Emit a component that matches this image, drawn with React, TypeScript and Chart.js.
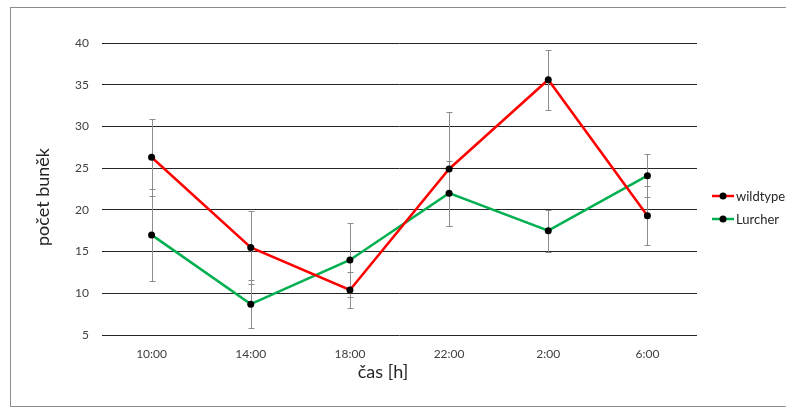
import React, { useEffect, useRef } from "react";
import { Chart, registerables } from "chart.js";

Chart.register(...registerables);

// Sampling times
const categories = ["10:00", "14:00", "18:00", "22:00", "2:00", "6:00"];

// Mean cell counts and their error (± one deviation)
const wildtypeValues = [26.3, 15.5, 10.4, 24.9, 35.6, 19.3];
const wildtypeErrors = [4.6, 4.4, 2.2, 6.8, 3.6, 3.5];
const lurcherValues = [17.0, 8.7, 14.0, 22.0, 17.5, 24.1];
const lurcherErrors = [5.5, 2.9, 4.4, 3.9, 2.5, 2.6];

const seriesNames = ["wildtype", "Lurcher"];
const seriesColors = ["#ff0000", "#00b050"];
const yTitle = "počet buněk";
const xTitle = "čas [h]";

const FONT = "Lato, 'Noto Sans', sans-serif";

const errorBarPlugin = {
  id: "errorBars",
  beforeDatasetsDraw(chart: any) {
    const { ctx } = chart;
    const y = chart.scales.y;
    const errs = [wildtypeErrors, lurcherErrors];
    ctx.save();
    ctx.strokeStyle = "#8c8c8c";
    ctx.lineWidth = 1;
    chart.data.datasets.forEach((ds: any, di: number) => {
      const meta = chart.getDatasetMeta(di);
      meta.data.forEach((pt: any, i: number) => {
        const v = ds.data[i];
        const e = errs[di][i];
        const x = Math.round(pt.x) + 0.5;
        const yTop = Math.round(y.getPixelForValue(v + e)) + 0.5;
        const yBot = Math.round(y.getPixelForValue(v - e)) + 0.5;
        ctx.beginPath();
        ctx.moveTo(x, yTop);
        ctx.lineTo(x, yBot);
        ctx.moveTo(x - 3, yTop);
        ctx.lineTo(x + 3, yTop);
        ctx.moveTo(x - 3, yBot);
        ctx.lineTo(x + 3, yBot);
        ctx.stroke();
      });
    });
    ctx.restore();
  },
};

const decorPlugin = {
  id: "decor",
  afterDraw(chart: any) {
    const { ctx } = chart;
    ctx.save();
    // outer frame
    ctx.strokeStyle = "#8c8c8c";
    ctx.lineWidth = 1;
    ctx.strokeRect(10.5, 7.5, 790, 399);

    // axis titles
    ctx.fillStyle = "#262626";
    ctx.font = `18px ${FONT}`;
    ctx.textAlign = "center";
    ctx.textBaseline = "middle";
    ctx.fillText(xTitle, 383, 372);
    ctx.save();
    ctx.translate(43, 197);
    ctx.rotate(-Math.PI / 2);
    ctx.fillText(yTitle, 0, 0);
    ctx.restore();

    // legend
    ctx.font = `13px ${FONT}`;
    ctx.textAlign = "left";
    chart.data.datasets.forEach((ds: any, i: number) => {
      const ly = 196 + i * 23;
      ctx.strokeStyle = ds.borderColor;
      ctx.lineWidth = 2.5;
      ctx.beginPath();
      ctx.moveTo(712, ly);
      ctx.lineTo(734, ly);
      ctx.stroke();
      ctx.fillStyle = "#000";
      ctx.beginPath();
      ctx.arc(723, ly, 3.5, 0, Math.PI * 2);
      ctx.fill();
      ctx.fillStyle = "#262626";
      ctx.fillText(ds.label, 736, ly + 1);
    });
    ctx.restore();
  },
};

export default function App() {
  const ref = useRef<HTMLCanvasElement | null>(null);

  useEffect(() => {
    if (!ref.current) return;
    const chart = new Chart(ref.current, {
      type: "line",
      data: {
        labels: categories,
        datasets: [
          {
            label: seriesNames[0],
            data: wildtypeValues,
            borderColor: seriesColors[0],
            backgroundColor: seriesColors[0],
            borderWidth: 2.5,
            pointRadius: 3.5,
            pointBackgroundColor: "#000",
            pointBorderColor: "#000",
            pointBorderWidth: 0,
            tension: 0,
          },
          {
            label: seriesNames[1],
            data: lurcherValues,
            borderColor: seriesColors[1],
            backgroundColor: seriesColors[1],
            borderWidth: 2.5,
            pointRadius: 3.5,
            pointBackgroundColor: "#000",
            pointBorderColor: "#000",
            pointBorderWidth: 0,
            tension: 0,
          },
        ],
      },
      options: {
        responsive: false,
        animation: false,
        layout: { padding: { top: 43, right: 89, left: 0, bottom: 0 } },
        plugins: {
          legend: { display: false },
          tooltip: { enabled: false },
        },
        scales: {
          x: {
            type: "category",
            offset: true,
            grid: { display: false, drawTicks: false },
            border: { display: false },
            ticks: {
              padding: 12,
              color: "#404040",
              font: { family: FONT, size: 12 },
              maxRotation: 0,
            },
            afterFit(scale: any) {
              scale.height = 73;
            },
          },
          y: {
            min: 5,
            max: 40,
            grid: { color: "#262626", lineWidth: 1, drawTicks: false },
            border: { display: false },
            ticks: {
              stepSize: 5,
              padding: 13,
              color: "#404040",
              font: { family: FONT, size: 12 },
            },
            afterFit(scale: any) {
              scale.width = 102;
            },
          },
        },
      },
      plugins: [errorBarPlugin, decorPlugin],
    });
    return () => chart.destroy();
  }, []);

  return (
    <div style={{ position: "fixed", left: 0, top: 0, width: 786, height: 408, background: "#fff" }}>
      <canvas ref={ref} width={786} height={408} />
    </div>
  );
}
